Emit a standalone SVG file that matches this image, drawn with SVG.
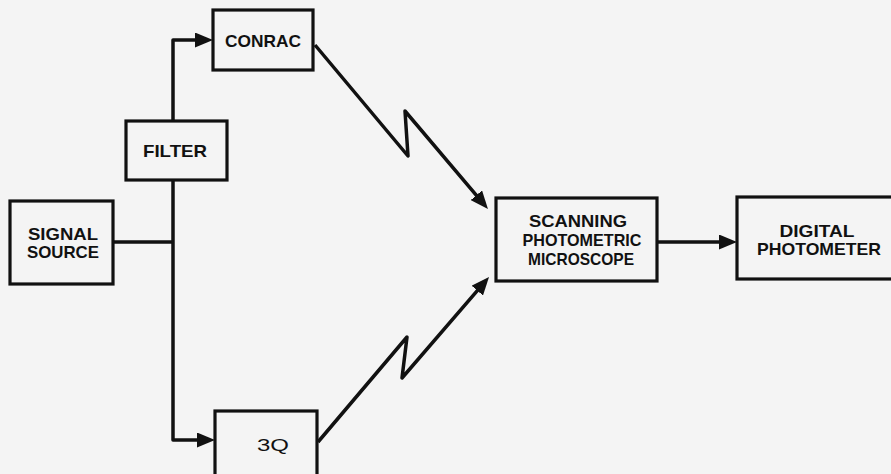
<svg xmlns="http://www.w3.org/2000/svg" width="891" height="474" viewBox="0 0 891 474">
<style>
.box{fill:none;stroke:#111;stroke-width:3.2}
.lbl{font-family:"Liberation Sans",Arial,sans-serif;font-weight:bold;font-size:17px;fill:#111;text-anchor:middle}
.lbl.reg{font-weight:normal}
.wire{fill:none;stroke:#111;stroke-width:3.5;stroke-linejoin:round}
</style>
<defs>
<marker id="ah" markerUnits="userSpaceOnUse" markerWidth="18" markerHeight="15" refX="8" refY="7.5" orient="auto">
<path d="M0,0 L18,7.5 L0,15 z" fill="#111"/>
</marker>
</defs>
<rect width="891" height="474" fill="#f4f4f4"/>
<g id="connectors">
<path class="wire" d="M113,242 H173"/>
<path class="wire" d="M173,180 V440 H205" marker-end="url(#ah)"/>
<path class="wire" d="M173,121 V40 H203" marker-end="url(#ah)"/>
<path class="wire" d="M315,45 L408,156 L405,111 L481.5,201.4" marker-end="url(#ah)"/>
<path class="wire" d="M318,442 L407,337 L402,378 L482.5,284.6" marker-end="url(#ah)"/>
<path class="wire" d="M657,242 H727" marker-end="url(#ah)"/>
</g>
<g id="conrac">
<rect class="box" x="213" y="10" width="100" height="60"/>
<text class="lbl" x="263" y="47" textLength="76" lengthAdjust="spacingAndGlyphs">CONRAC</text>
</g>
<g id="filter">
<rect class="box" x="126" y="121" width="101" height="59"/>
<text class="lbl" x="175" y="157" textLength="64" lengthAdjust="spacingAndGlyphs">FILTER</text>
</g>
<g id="signal-source">
<rect class="box" x="10" y="201" width="103" height="83"/>
<text class="lbl" x="63" y="240" textLength="70" lengthAdjust="spacingAndGlyphs">SIGNAL</text>
<text class="lbl" x="63" y="257.5" textLength="72" lengthAdjust="spacingAndGlyphs">SOURCE</text>
</g>
<g id="q3">
<rect class="box" x="215" y="411" width="102" height="72"/>
<text class="lbl reg" x="273" y="451" textLength="32" lengthAdjust="spacingAndGlyphs">3Q</text>
</g>
<g id="microscope">
<rect class="box" x="496" y="198" width="161" height="83"/>
<text class="lbl" x="578" y="227" textLength="98" lengthAdjust="spacingAndGlyphs">SCANNING</text>
<text class="lbl" x="582" y="246" textLength="119" lengthAdjust="spacingAndGlyphs">PHOTOMETRIC</text>
<text class="lbl" x="581" y="265" textLength="106" lengthAdjust="spacingAndGlyphs">MICROSCOPE</text>
</g>
<g id="digital-photometer">
<rect class="box" x="737" y="197" width="165" height="82"/>
<text class="lbl" x="817" y="237" textLength="75" lengthAdjust="spacingAndGlyphs">DIGITAL</text>
<text class="lbl" x="819" y="255" textLength="124" lengthAdjust="spacingAndGlyphs">PHOTOMETER</text>
</g>
</svg>
